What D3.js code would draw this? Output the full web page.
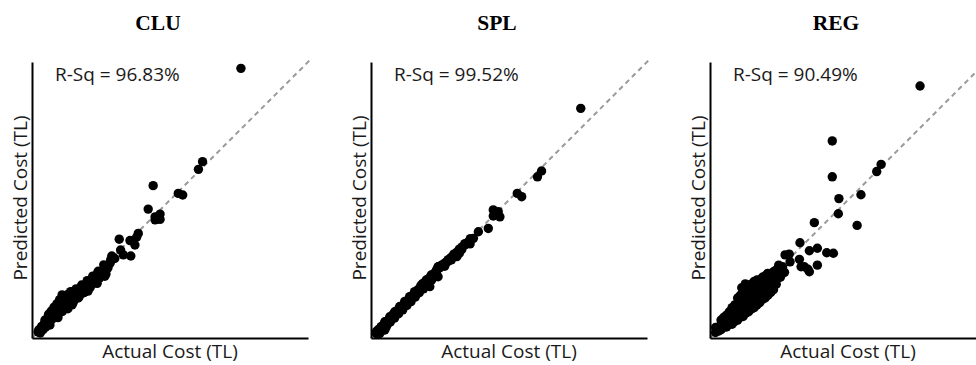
<!DOCTYPE html>
<html>
<head>
<meta charset="utf-8">
<script src="https://cdn.jsdelivr.net/npm/d3@7"></script>
<style>
  html, body { margin: 0; padding: 0; background: #fff; }
  svg { display: block; }
</style>
</head>
<body>
<svg id="chart" width="976" height="365"></svg>
<script>
// Model names and their goodness-of-fit
const modelNames = ["CLU", "SPL", "REG"];
const rSquared = ["96.83%", "99.52%", "90.49%"];

// Actual vs predicted cost, as a share of the axis range (0-100)
const cluActual = [75.7, 61.8, 60.3, 43.9, 53.0, 54.6, 42.1, 44.6, 46.4, 46.4, 44.6, 38.5, 37.9, 31.6, 35.5, 37.3,
  32.1, 33.1, 35.8, 28.9, 28.5, 28.3, 27.1, 25.7, 26.8, 23.9, 23.4, 22.1, 20.3, 19.6, 18.1, 17.4, 15.9, 14.5,
  10.9, 12.7, 12.0, 13.8, 10.1, 15.2, 14.5, 12.3, 9.4, 8.3, 7.2, 6.2, 4.7, 4.3, 2.9, 2.2, 5.8,
  6.5, 9.4, 13.0, 16.7, 20.3, 23.6, 26.4, 27.5, 30.0, 21.5, 18.8,
  2.5, 3.0, 3.5, 4.0, 4.5, 5.0, 5.5, 5.5, 6.5, 6.5, 7.5, 7.5, 8.5, 8.5, 9.5, 9.5, 10.5, 10.5, 11.5, 11.5,
  11.0, 12.5, 12.5, 13.0, 13.5, 13.5, 14.5, 14.5, 15.5, 15.5, 16.5, 16.5, 17.5, 17.5, 18.5, 18.5, 19.5, 19.5,
  20.5, 20.5, 21.5, 21.5, 22.5, 22.5, 23.5, 24.5, 24.5, 25.5, 26.5, 27.5, 26.0,
  6.0, 7.0, 8.0, 9.0, 10.0, 14.0, 16.0, 18.0, 20.0, 22.0, 24.0, 9.0, 11.0, 13.0, 15.0, 17.0, 19.0, 21.0];
const cluPredicted = [97.7, 63.9, 61.1, 55.2, 52.4, 51.8, 46.7, 43.9, 44.9, 43.0, 42.8, 37.9, 36.5, 35.8, 35.3, 33.7,
  31.9, 30.1, 29.7, 29.7, 28.3, 27.1, 25.8, 24.6, 23.2, 23.9, 22.2, 21.0, 20.3, 18.8, 18.8, 17.8, 17.4, 16.7,
  15.6, 15.2, 13.0, 13.4, 13.8, 14.9, 12.0, 10.9, 11.6, 10.1, 9.1, 7.6, 6.5, 4.7, 2.9, 2.2, 7.2,
  4.7, 7.4, 10.6, 14.5, 17.0, 19.8, 22.4, 25.4, 28.8, 19.6, 16.4,
  3.0, 1.8, 4.2, 3.0, 5.3, 4.0, 6.5, 5.0, 7.6, 6.0, 8.7, 7.0, 9.8, 8.0, 11.0, 9.2, 12.2, 10.0, 13.2, 11.0,
  14.8, 13.8, 12.0, 15.8, 14.4, 12.6, 15.0, 13.5, 15.8, 14.2, 16.6, 15.0, 17.4, 16.0, 18.2, 16.8, 19.0, 17.6,
  19.8, 18.4, 20.6, 19.2, 21.5, 20.0, 22.3, 23.2, 21.8, 24.0, 24.8, 26.0, 26.5,
  8.6, 9.8, 11.2, 12.4, 13.8, 16.8, 17.8, 19.2, 20.8, 22.4, 24.2, 8.2, 9.6, 11.2, 13.0, 14.8, 16.6, 18.2];

const splActual = [76.0, 61.8, 60.3, 53.0, 54.6, 44.3, 46.1, 44.3, 46.7, 45.3, 42.5, 38.9, 37.1, 35.9, 35.6,
  32.9, 32.0, 31.1, 28.6, 27.4, 25.6, 24.4, 34.0, 32.5, 31.3, 29.1, 27.9, 26.1, 24.3, 23.7, 21.8, 20.0,
  18.8, 18.2, 15.8, 14.0, 12.2, 10.4, 8.6, 6.8, 5.0, 3.7, 2.5, 1.9, 24.3, 21.3, 26.7, 3.6, 4.3, 3.2, 5.0,
  8.0, 10.0, 12.8, 15.0, 17.0, 19.5, 22.5, 16.5, 13.5, 11.0, 7.5, 6.0,
  2, 3, 4, 5, 6, 7, 8, 9, 10, 11, 12, 13, 14, 15, 16, 17, 18, 19, 20, 21, 22, 23, 24, 25, 26, 27, 28, 29,
  30, 31, 32, 33, 34, 35, 36,
  2.5, 4, 5.5, 7, 8.5, 10, 11.5, 13, 14.5, 16, 17.5, 19, 20.5, 22, 23.5];
const splPredicted = [83.2, 60.5, 58.4, 52.4, 51.2, 46.4, 45.8, 44.2, 43.9, 44.9, 39.7, 38.5, 36.1, 34.1, 34.9,
  32.1, 30.7, 29.5, 28.3, 27.6, 26.4, 25.8, 33.7, 31.9, 30.1, 28.3, 27.7, 26.4, 25.8, 24.6, 22.8, 21.0,
  19.8, 19.2, 16.8, 15.0, 13.2, 11.4, 9.5, 7.7, 5.9, 4.1, 2.9, 1.7, 22.2, 18.6, 26.0, 3.5, 4.1, 1.7, 2.9,
  8.6, 10.5, 12.5, 15.4, 17.5, 19.6, 22.5, 16.0, 13.0, 10.5, 7.0, 5.0,
  2.4, 3.2, 4.3, 5.2, 6.3, 7.2, 8.3, 9.4, 10.3, 11.4, 12.3, 13.4, 14.3, 15.4, 16.3, 17.4, 18.6, 19.5, 20.5,
  21.6, 22.4, 23.5, 24.6, 25.5, 26.6, 27.3, 28.4, 29.2, 30.4, 31.0, 32.2, 33.0, 34.2, 34.6, 36.0,
  1.5, 2.8, 4.0, 5.8, 7.2, 8.8, 10.2, 11.8, 13.2, 14.8, 16.4, 17.8, 19.4, 21.0, 22.4];

const regActual = [76.1, 44.3, 44.3, 62.0, 60.4, 46.7, 54.7, 46.5, 37.8, 53.3, 32.6, 38.9, 36.0, 42.3, 44.7,
  27.2, 28.7, 32.4, 38.9, 33.0, 36.0, 24.9, 23.9, 26.3, 20.9, 20.3, 26.1, 23.3, 29.0, 35.5, 34.2,
  2, 2, 4, 4, 4, 6, 6, 6, 8, 8, 8, 8, 10, 10, 10, 10, 10, 12, 12, 12, 12, 12, 12,
  14, 14, 14, 14, 14, 14, 16, 16, 16, 16, 16, 16, 18, 18, 18, 18, 18, 20, 20, 20, 20, 20,
  22, 22, 22, 22, 24, 24, 24,
  3, 5, 7, 9, 11, 13, 15, 17, 19, 21, 23, 5, 7, 9, 11, 13, 15, 17, 19, 21, 23,
  12.8, 11.5, 25.5, 27.0];
const regPredicted = [91.3, 71.4, 58.4, 62.9, 60.3, 50.5, 51.9, 45.0, 41.8, 40.8, 34.5, 32.5, 31.6, 30.9, 30.7,
  30.1, 30.4, 28.5, 26.4, 25.8, 24.0, 26.4, 24.6, 25.8, 23.4, 22.2, 23.4, 21.0, 27.6, 24.9, 25.8,
  2, 3.8, 3, 5, 6.5, 4, 6, 8.3, 5, 7, 9, 11, 6.5, 8.5, 10.5, 12.5, 14.5, 7.8, 10, 12, 14, 16, 17.5,
  9.5, 11.5, 13.5, 15.5, 17.5, 19, 11, 13, 15, 17, 19, 20.5, 12.8, 14.8, 16.8, 18.8, 21, 14.5, 16.5, 18.5, 20.5, 22.5,
  16.5, 18.5, 20.5, 22.5, 19.5, 21.5, 23.5,
  2.5, 4, 5, 6, 7.5, 9, 10.5, 12, 14, 15.5, 17.5, 7.5, 9.5, 12, 15.5, 18, 19.5, 21, 22, 23, 24,
  19.6, 18.2, 22.0, 23.8];

const actualSeries = [cluActual, splActual, regActual];
const predictedSeries = [cluPredicted, splPredicted, regPredicted];

const svg = d3.select("#chart");
const size = 276;          // square plot area
const left0 = 32;          // first plot's left edge
const step = 339;          // distance between panels
const top0 = 62;           // plot top edge

const x = d3.scaleLinear().domain([0, 100]).range([0, size]);
const y = d3.scaleLinear().domain([0, 100]).range([size, 0]);

const labelFont = "'Open Sans', 'Noto Sans', sans-serif";
const labelSize = 19;

modelNames.forEach((name, i) => {
  const g = svg.append("g").attr("transform", `translate(${left0 + i * step},${top0})`);

  // title
  svg.append("text")
    .attr("x", left0 + i * step + size / 2 - 12)
    .attr("y", 30)
    .attr("text-anchor", "middle")
    .attr("font-family", "'Liberation Serif', 'Times New Roman', serif")
    .attr("font-weight", "bold")
    .attr("font-size", 21.5)
    .attr("fill", "#000")
    .text(name);

  // identity reference line
  g.append("line")
    .attr("x1", x(0)).attr("y1", y(0))
    .attr("x2", x(100.8)).attr("y2", y(100.8))
    .attr("stroke", "#9a9a9a")
    .attr("stroke-width", 2)
    .attr("stroke-dasharray", "5,4");

  // points
  const pts = actualSeries[i].map((a, k) => ({ a, p: predictedSeries[i][k] }));
  g.append("g").selectAll("circle")
    .data(pts)
    .join("circle")
    .attr("cx", d => x(d.a))
    .attr("cy", d => y(d.p))
    .attr("r", 4.7)
    .attr("fill", "#000");

  // axes (no ticks)
  const xAxis = g.append("g")
    .attr("transform", `translate(0,${size})`)
    .call(d3.axisBottom(x).ticks(0).tickSize(0).tickSizeOuter(0));
  const yAxis = g.append("g")
    .call(d3.axisLeft(y).ticks(0).tickSize(0).tickSizeOuter(0));
  [xAxis, yAxis].forEach(ax => {
    ax.select(".domain").attr("stroke", "#000").attr("stroke-width", 2);
    ax.selectAll(".tick").remove();
  });

  // axis labels
  g.append("text")
    .attr("x", size / 2)
    .attr("y", size + 19.5)
    .attr("text-anchor", "middle")
    .attr("font-family", labelFont)
    .attr("font-size", labelSize)
    .attr("fill", "#1a1a1a")
    .text("Actual Cost (TL)");

  g.append("text")
    .attr("transform", `translate(-12,${size / 2 - 2}) rotate(-90)`)
    .attr("text-anchor", "middle")
    .attr("dominant-baseline", "central")
    .attr("font-family", labelFont)
    .attr("font-size", labelSize)
    .attr("fill", "#1a1a1a")
    .text("Predicted Cost (TL)");

  // goodness-of-fit note
  g.append("text")
    .attr("x", 23)
    .attr("y", 18.7)
    .attr("font-family", labelFont)
    .attr("font-size", labelSize)
    .attr("fill", "#1a1a1a")
    .text(`R-Sq = ${rSquared[i]}`);
});
</script>
</body>
</html>
